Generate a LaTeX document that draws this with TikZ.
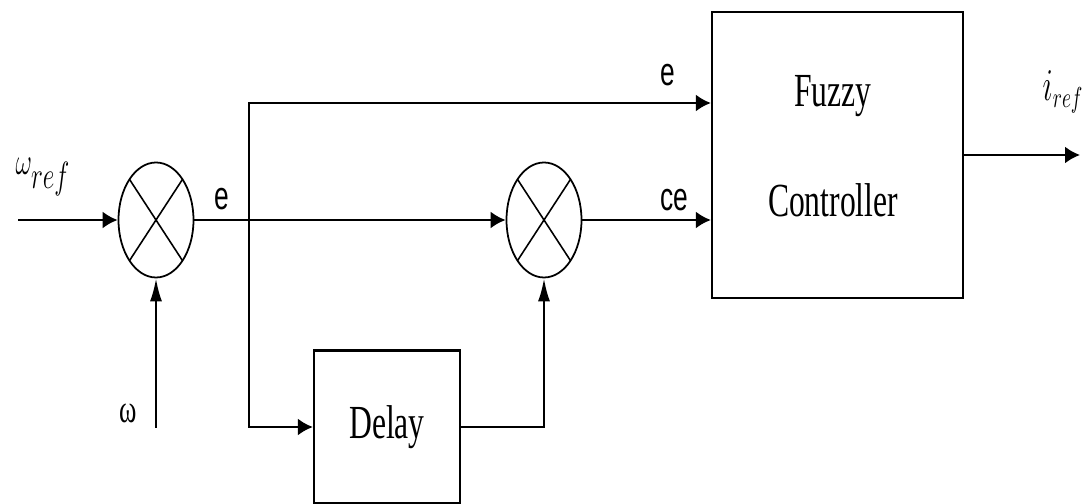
\documentclass[tikz,border=0pt]{standalone}
\usepackage{graphicx}
\usepackage{fontspec}
\setmainfont{Liberation Serif}
\setsansfont{Liberation Sans}
\usetikzlibrary{arrows.meta,positioning,shapes.geometric}
\newcommand{\tall}[1]{\scalebox{1}[1.5]{#1}}

\begin{document}
\begin{tikzpicture}[
  line width=1.3pt,
  block/.style={draw, line width=1.3pt, inner sep=0pt,
    font=\rmfamily\fontsize{18}{20}\selectfont},
  summer/.style={draw, ellipse, line width=1pt, inner sep=0pt,
    minimum width=15mm, minimum height=23mm,
    path picture={\draw[line width=0.9pt]
      (path picture bounding box.north west) -- (path picture bounding box.south east)
      (path picture bounding box.north east) -- (path picture bounding box.south west);}},
  harrow/.style={-{Latex[length=3mm,width=3.4mm]}},
  varrow/.style={-{Latex[length=4.6mm,width=2.4mm]}},
  lbl/.style={inner sep=0pt, font=\sffamily\fontsize{15}{18}\selectfont},
  mlbl/.style={inner sep=0pt, font=\rmfamily\fontsize{15}{18}\selectfont}
]
\useasboundingbox (0,0) rectangle (217.6mm,100.8mm);

% blocks
\node[summer] (sumA) at (31.2mm,56.8mm) {};
\node[summer] (sumB) at (108.8mm,56.8mm) {};
\node[block, minimum width=50.2mm, minimum height=57.2mm] (fuzzy) at (167.5mm,69.8mm) {};
\node[block, minimum width=29.2mm, minimum height=30.6mm] (delay) at (77.4mm,15.4mm) {\tall{Delay}};
\node[font=\rmfamily\fontsize{18}{20}\selectfont] (fuzzytxt) at (166.6mm,81.6mm) {\tall{Fuzzy}};
\node[font=\rmfamily\fontsize{18}{20}\selectfont] (ctrltxt) at (166.6mm,60.8mm) {\tall{Controller}};

% free ends
\coordinate (wrefin) at (3.6mm,56.8mm);
\coordinate (wbottom) at (31.2mm,15.2mm);
\coordinate (split) at (49.8mm,56.8mm);
\coordinate (etop) at (49.8mm,80.2mm);
\coordinate (iout) at (216mm,70mm);

% connectors
\draw[harrow] (wrefin) -- (sumA.west);
\draw[varrow] (wbottom) -- (sumA.south);
\draw[harrow] (sumA.east) -- (sumB.west);
\draw[harrow] (split) -- (etop) -- (etop -| fuzzy.west);
\draw[harrow] (split) |- (delay.west);
\draw[varrow] (delay.east) -| (sumB.south);
\draw[harrow] (sumB.east) -- (sumB.east -| fuzzy.west);
\draw[harrow] (fuzzy.east) -- (fuzzy.east -| iout);

% labels
\node[mlbl] (wreflbl) at (8.6mm,65.4mm) {\tall{$\omega_{\textstyle ref}$}};
\node[mlbl] (wlbl) at (25.6mm,18.2mm) {\tall{ω}};
\node[lbl] (elbl) at (44.4mm,61mm) {\tall{e}};
\node[lbl] (etoplbl) at (133.6mm,85.8mm) {\tall{e}};
\node[lbl] (celbl) at (134.8mm,60.8mm) {\tall{ce}};
\node[mlbl, font=\fontsize{16}{18}\selectfont] (ireflbl) at (212.6mm,82.4mm) {\tall{$i_{ref}$}};

\end{tikzpicture}
\end{document}
